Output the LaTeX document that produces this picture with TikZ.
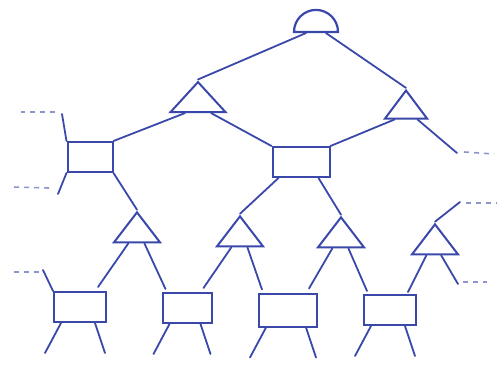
\documentclass[tikz,border=0pt]{standalone}
\usepackage{tikz}
\usetikzlibrary{shapes.geometric,calc}
\definecolor{pen}{HTML}{3A48AA}
\definecolor{penlight}{HTML}{8C95CC}
\tikzset{
  leaf/.style    ={draw=pen,line width=2pt,minimum width=52pt,minimum height=30pt,
                   inner sep=0pt},
  tri/.style     ={draw=pen,line width=2pt,isosceles triangle,isosceles triangle stretches,
                   shape border rotate=90,minimum width=46pt,minimum height=30pt,inner sep=0pt},
  rootcap/.style ={draw=pen,line width=2.2pt,semicircle,minimum width=44pt,inner sep=0pt},
  link/.style    ={draw=pen,line width=1.8pt,line cap=round},
  stub/.style    ={draw=penlight,line width=1.6pt,dash pattern=on 5pt off 5pt}
}
\begin{document}
\begin{tikzpicture}[x=1pt,y=-1pt]
  \useasboundingbox (0,0) rectangle (499,367);
  % root and first level
  \node[rootcap,anchor=chord center] (root) at (316,33) {};
  \node[tri,minimum width=55pt] (tL) at (198,100) {};
  \node[tri,minimum width=42pt,minimum height=28pt] (tR) at (406,108) {};
  \node[leaf,minimum width=45pt] (rL) at (90,157) {};
  \node[leaf,minimum width=57pt] (rM) at (301,162) {};
  % second level
  \node[tri] (t1) at (137,231) {};
  \node[tri] (t2) at (240,235) {};
  \node[tri] (t3) at (341,236) {};
  \node[tri] (t4) at (435,243) {};
  \node[leaf] (rA) at (80,307) {};
  \node[leaf,minimum width=49pt] (rB) at (187,308) {};
  \node[leaf,minimum width=58pt,minimum height=33pt] (rC) at (288,310) {};
  \node[leaf] (rD) at (390,310) {};
  % loose ends
  \coordinate (eL1) at (62,114);
  \coordinate (eL2) at (58,194);
  \coordinate (eA) at (43,270);
  \coordinate (eR) at (457,153);
  \coordinate (eU) at (460,202);
  \coordinate (eD) at (458,284);

  \draw[link] (root.south west) -- (tL.apex);
  \draw[link] (root.south east) -- (tR.apex);
  \draw[link] (tL.south west) -- (rL.north east);
  \draw[link] (tL.south east) -- (rM.north west);
  \draw[link] (tR.south west) -- (rM.north east);
  \draw[link] (tR.south east) -- (eR);
  \draw[link] (rL.north west) -- (eL1);
  \draw[link] (rL.south west) -- (eL2);
  \draw[link] (rL.south east) -- (t1.apex);
  \draw[link] ([xshift=7pt]rM.south west) -- (t2.apex);
  \draw[link] ([xshift=-12pt]rM.south east) -- (t3.apex);
  \foreach \t/\a/\b in {t1/rA/rB,t2/rB/rC,t3/rC/rD}{
    \draw[link] ($(\t.south west)!.15!(\t.south east)$) -- ([xshift=-9pt,yshift=4pt]\a.north east);
    \draw[link] ($(\t.south west)!.8!(\t.south east)$) -- ([xshift=4pt,yshift=3pt]\b.north west);
  }
  \draw[link] ($(t4.south west)!.15!(t4.south east)$) -- ([xshift=-9pt,yshift=2pt]rD.north east);
  \draw[link] (t4.apex) -- (eU);
  \draw[link] ($(t4.south west)!.75!(t4.south east)$) -- (eD);
  \draw[link] (rA.north west) -- (eA);
  \foreach \r in {rA,rB,rC,rD}{
    \draw[link] ([xshift=8pt]\r.south west) -- ++(-16,30);
    \draw[link] ([xshift=-12pt]\r.south east) -- ++(10,30);
  }
  % dashed continuations
  \draw[stub] ([xshift=-7pt,yshift=2pt]eL1) -- ++(-34,0);
  \draw[stub] ([xshift=-9pt,yshift=6pt]eL2) -- ++(-36,-1);
  \draw[stub] ([xshift=-4pt,yshift=-2pt]eA) -- ++(-26,0);
  \draw[stub] ([xshift=7pt,yshift=1pt]eR) -- ++(30,2);
  \draw[stub] ([xshift=6pt,yshift=-1pt]eU) -- ++(31,0);
  \draw[stub] ([xshift=5pt,yshift=2pt]eD) -- ++(24,0);
\end{tikzpicture}
\end{document}
